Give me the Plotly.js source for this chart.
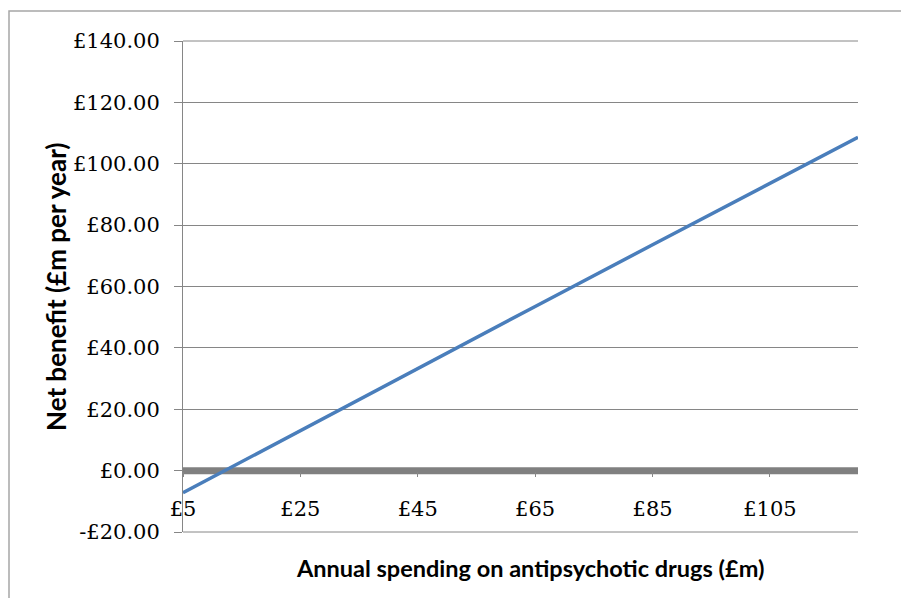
<!DOCTYPE html>
<html>
<head>
<meta charset="utf-8">
<script src="https://cdn.plot.ly/plotly-3.0.1.min.js"></script>
<style>html,body{margin:0;padding:0;background:#fff;}#chart{width:901px;height:598px;}</style>
</head>
<body>
<div id="chart"></div>
<script>
// Data
var spending = [5, 25, 45, 65, 85, 105, 120];            // Annual spending (£m)
var netBenefit = [-7.2, 13.1, 33.3, 53.5, 73.6, 93.7, 108.6]; // Net benefit (£m per year)
var zeroSpending = [5, 120];
var zeroBenefit = [0, 0];

var xTickVals = [5, 25, 45, 65, 85, 105];
var xTickText = ["£5", "£25", "£45", "£65", "£85", "£105"];
var yTickVals = [-20, 0, 20, 40, 60, 80, 100, 120, 140];
var yTickText = ["-£20.00", "£0.00", "£20.00", "£40.00", "£60.00", "£80.00", "£100.00", "£120.00", "£140.00"];

var xTitle = "Annual spending on antipsychotic drugs (£m)";
var yTitle = "Net benefit (£m per year)";

var W = 901, H = 598, L = 183, R = 43, T = 41, B = 66;
var pw = W - L - R, ph = H - T - B;
function px(x){ return (x - L) / pw; }
function py(y){ return (H - B - y) / ph; }

var traces = [
  {x: zeroSpending, y: zeroBenefit, type: 'scatter', mode: 'lines',
   line: {color: '#808080', width: 7}, hoverinfo: 'skip', showlegend: false},
  {x: spending, y: netBenefit, type: 'scatter', mode: 'lines',
   line: {color: '#4a7ebb', width: 3.5}, showlegend: false}
];

var tickFont = {family: 'DejaVu Serif', size: 21, color: '#000'};

var layout = {
  width: W, height: H,
  margin: {l: L, r: R, t: T, b: B, pad: 0},
  paper_bgcolor: '#fff', plot_bgcolor: '#fff',
  showlegend: false,
  xaxis: {
    range: [5, 120], anchor: 'free', position: 20/160,
    tickvals: xTickVals, ticktext: xTickText,
    ticks: 'outside', ticklen: 5, tickwidth: 1, tickcolor: '#868686',
    ticklabelstandoff: 14,
    showgrid: false, zeroline: false, showline: false,
    tickfont: tickFont
  },
  yaxis: {
    range: [-20, 140], domain: [0, 1],
    tickvals: yTickVals, ticktext: yTickText,
    ticks: 'outside', ticklen: 8, tickwidth: 1, tickcolor: '#868686',
    ticklabelstandoff: 10,
    showgrid: true, gridcolor: '#868686', gridwidth: 1,
    zeroline: false, showline: true, linecolor: '#868686', linewidth: 1,
    tickfont: tickFont
  },
  shapes: [
    {type: 'line', xref: 'paper', yref: 'paper', x0: 0, x1: 1, y0: 0, y1: 0,
     line: {color: '#868686', width: 1}, layer: 'below'},
    {type: 'line', xref: 'paper', yref: 'paper', x0: 0, x1: 1, y0: 1, y1: 1,
     line: {color: '#868686', width: 1}, layer: 'below'},
    {type: 'rect', xref: 'paper', yref: 'paper', x0: px(9), x1: px(915), y0: py(612), y1: py(11),
     line: {color: '#a6a6a6', width: 1.5}, fillcolor: 'rgba(0,0,0,0)'}
  ],
  annotations: [
    {text: xTitle, xref: 'paper', yref: 'paper', x: px(530), y: py(568),
     xanchor: 'center', yanchor: 'middle', showarrow: false,
     font: {family: 'Lato', size: 23.5, color: '#000', weight: 'bold'}},
    {text: yTitle, xref: 'paper', yref: 'paper', x: px(56), y: py(287),
     xanchor: 'center', yanchor: 'middle', showarrow: false, textangle: -90,
     font: {family: 'Lato', size: 26, color: '#000', weight: 'bold'}}
  ]
};

Plotly.newPlot('chart', traces, layout, {displayModeBar: false, staticPlot: true});
</script>
</body>
</html>
